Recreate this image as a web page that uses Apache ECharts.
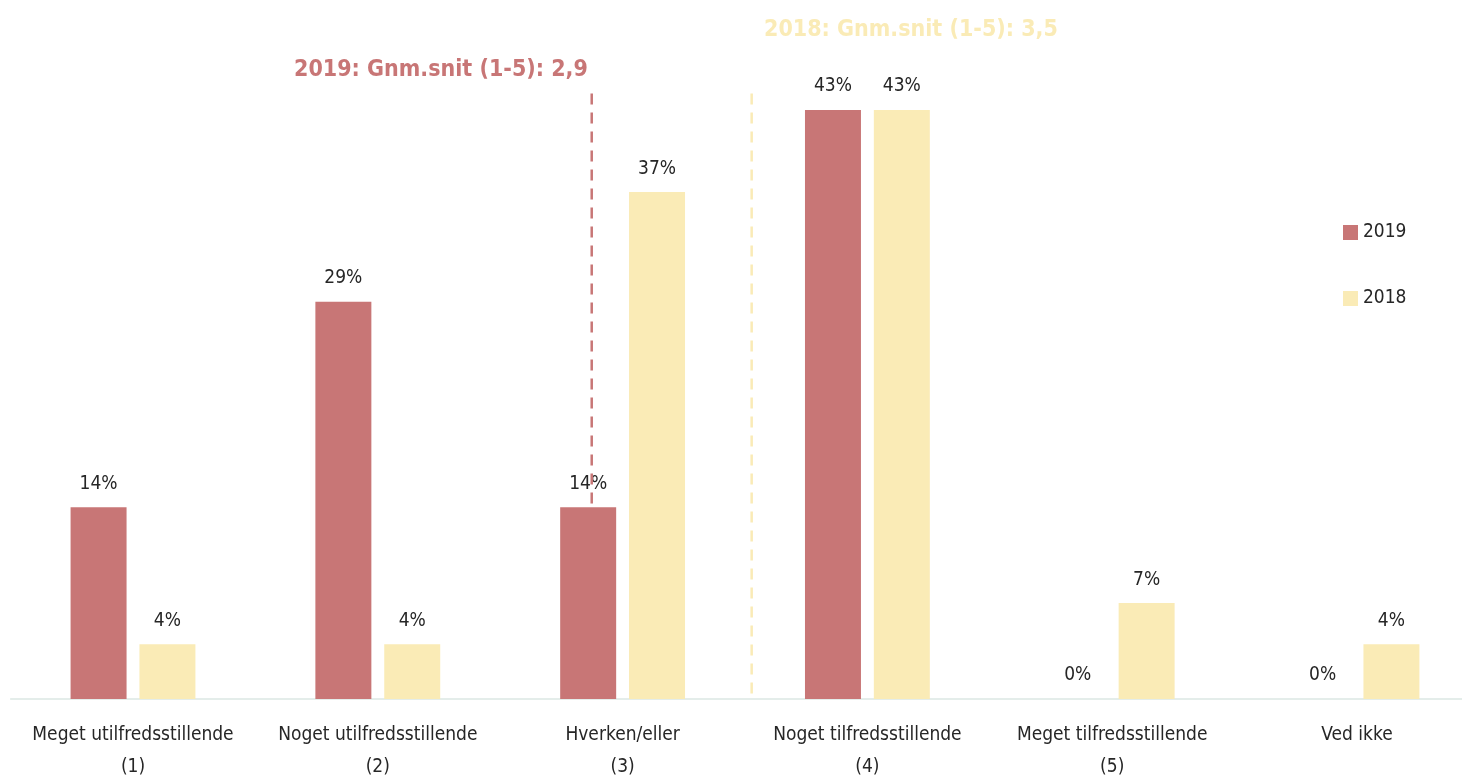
<!DOCTYPE html>
<html>
<head>
<meta charset="utf-8">
<script src="https://cdn.jsdelivr.net/npm/echarts@6/dist/echarts.min.js"></script>
<style>html,body{margin:0;padding:0;background:#fff}#c{width:1462px;height:776px}</style>
</head>
<body>
<div id="c"></div>
<script>
var categories = ['Meget utilfredsstillende\n(1)', 'Noget utilfredsstillende\n(2)', 'Hverken/eller\n(3)', 'Noget tilfredsstillende\n(4)', 'Meget tilfredsstillende\n(5)', 'Ved ikke'];
var values2019 = [14, 29, 14, 43, 0, 0];
var values2018 = [4, 4, 37, 43, 7, 4];
var avg2019 = 2.9;
var avg2018 = 3.5;
var avgText2019 = '2019: Gnm.snit (1-5): 2,9';
var avgText2018 = '2018: Gnm.snit (1-5): 3,5';

var RED = '#C87676';
var YEL = '#FAEBB6';
var FONT = '"DejaVu Sans Condensed", "Liberation Sans Narrow", sans-serif';

var chart = echarts.init(document.getElementById('c'));
chart.setOption({
  animation: false,
  textStyle: { fontFamily: FONT },
  title: [
    { text: avgText2019, left: 289, top: 54, textStyle: { color: RED, fontSize: 23, fontWeight: 'bold', fontFamily: FONT } },
    { text: avgText2018, left: 759, top: 14, textStyle: { color: YEL, fontSize: 23, fontWeight: 'bold', fontFamily: FONT } }
  ],
  legend: {
    orient: 'vertical', left: 1338, top: 218,
    itemWidth: 15, itemHeight: 15, itemGap: 47, itemStyle: { borderWidth: 0 },
    icon: 'rect',
    textStyle: { fontSize: 19, color: '#262626', fontFamily: FONT },
    data: ['2019', '2018']
  },
  grid: { left: 10.6, width: 1468.8, top: 14, bottom: 77, containLabel: false, outerBoundsMode: 'none' },
  xAxis: [
    {
      type: 'category', data: categories,
      axisLine: { lineStyle: { color: '#DCE8E4', width: 1.5 } },
      axisTick: { show: false },
      axisLabel: { interval: 0, color: '#262626', fontSize: 19, lineHeight: 32, margin: 20, fontFamily: FONT }
    },
    { type: 'value', min: 0.72, max: 6.23, show: false }
  ],
  yAxis: { type: 'value', min: 0, max: 50, show: false, splitLine: { show: false } },
  series: [
    {
      name: '2019', type: 'bar', data: values2019, barGap: '23%', barCategoryGap: '49%',
      itemStyle: { color: RED },
      label: { show: true, position: 'top', formatter: '{c}%', color: '#262626', fontSize: 19, distance: 14, fontFamily: FONT }
    },
    {
      name: '2018', type: 'bar', data: values2018,
      itemStyle: { color: YEL },
      label: { show: true, position: 'top', formatter: '{c}%', color: '#262626', fontSize: 19, distance: 14, fontFamily: FONT }
    },
    {
      type: 'line', xAxisIndex: 1, data: [[avg2019, 44.2], [avg2019, values2019[2]]],
      symbol: 'none', lineStyle: { color: RED, width: 2.5, type: [11, 8] }, z: 5, silent: true
    },
    {
      type: 'line', xAxisIndex: 1, data: [[avg2018, 44.2], [avg2018, 0]],
      symbol: 'none', lineStyle: { color: YEL, width: 2.5, type: [11, 8] }, z: 5, silent: true
    }
  ]
});
</script>
</body>
</html>
